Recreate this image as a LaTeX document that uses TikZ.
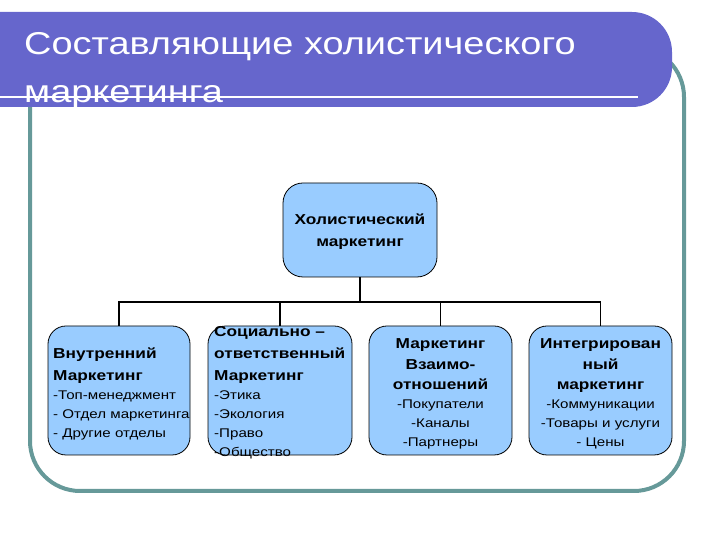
\documentclass[tikz,border=0pt]{standalone}
\usepackage{fontspec}
\setmainfont{Liberation Sans}[FakeStretch=1.2]
\definecolor{banner}{HTML}{6666CC}
\definecolor{boxblue}{HTML}{99CCFF}
\definecolor{frameteal}{HTML}{669999}
\newcommand\bl[1]{{\fontsize{14.4}{19}\selectfont\bfseries #1}}
\begin{document}
\begin{tikzpicture}[x=1pt,y=1pt,
  box/.style={draw=black, line width=0.8pt, fill=boxblue, rounded corners=18pt,
    inner sep=0pt, minimum height=129},
  boxtext/.style={inner sep=0pt, font=\fontsize{12.6}{19}\selectfont},
  conn/.style={draw=black, line width=1.6pt}]
\useasboundingbox (0,0) rectangle (720,540);
% frame
\draw[frameteal, line width=4pt, rounded corners=50pt] (30,49) rectangle (684,493);
% banner
\fill[banner] (0,528) -- (632,528) arc[start angle=90,end angle=0,radius=40]
  -- (672,473) arc[start angle=0,end angle=-90,radius=40] -- (0,433) -- cycle;
\node[anchor=base west, text=white, font=\fontsize{31.6}{48}\selectfont,
  align=left, inner sep=0pt] (title) at (24,437)
  {Составляющие холистического\\маркетинга};
\draw[white, line width=2.5pt] (0,443) -- (638,443);
% boxes
\node[box, minimum width=154, minimum height=94, rounded corners=20pt] (top) at (360,310) {};
\node[boxtext, align=center, anchor=base] (topt) at (360,293)
  {\bl{Холистический}\\[3pt]\bl{маркетинг}};
\node[box, minimum width=142] (b1) at (119,149.5) {};
\node[boxtext, align=left, anchor=base west] (b1t) at (53,102)
  {\bl{Внутренний}\\[3pt]\bl{Маркетинг}\\-Топ-менеджмент\\- Отдел маркетинга\\- Другие отделы};
\node[box, minimum width=144] (b2) at (280,149.5) {};
\node[boxtext, align=left, anchor=base west] (b2t) at (214,83)
  {\bl{Социально –}\\[3pt]\bl{ответственный}\\[3pt]\bl{Маркетинг}\\-Этика\\-Экология\\-Право\\-Общество};
\node[box, minimum width=143] (b3) at (440.5,149.5) {};
\node[boxtext, align=center, anchor=base] (b3t) at (440.5,93)
  {\bl{Маркетинг}\\[2pt]\bl{Взаимо-}\\[1pt]\bl{отношений}\\-Покупатели\\-Каналы\\-Партнеры};
\node[box, minimum width=143] (b4) at (600.5,149.5) {};
\node[boxtext, align=center, anchor=base] (b4t) at (600.5,93)
  {\bl{Интегрирован}\\[2pt]\bl{ный}\\[1pt]\bl{маркетинг}\\-Коммуникации\\-Товары и услуги\\- Цены};
% connectors
\coordinate (bus) at (360,238);
\draw[conn] (top.south) -- (bus);
\draw[conn] (b1.north) |- (bus) -| (b4.north);
\draw[conn] (b2.north) -- (b2.north |- bus);
\draw[conn] (b3.north) -- (b3.north |- bus);
\end{tikzpicture}
\end{document}
